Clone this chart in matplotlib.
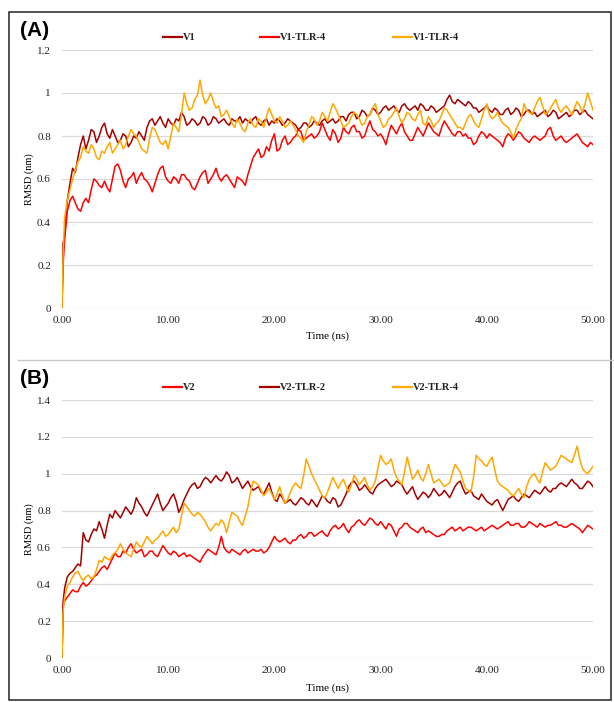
import numpy as np
import matplotlib
matplotlib.use("Agg")
import matplotlib.pyplot as plt
from matplotlib.lines import Line2D
from matplotlib.patches import Rectangle

plt.rcParams['font.family'] = ['Liberation Serif', 'DejaVu Serif']

# simulation time (ns): first frames, then every 0.25 ns
time_ns = np.concatenate([[0.0, 0.1], np.arange(0.25, 50.01, 0.25)])

# --- panel A: V1 systems, RMSD (nm); one row = 5 ns ---
v1 = [0.0, 0.30,
      0.34, 0.50, 0.58, 0.65, 0.63, 0.70, 0.76, 0.80, 0.74, 0.78, 0.83, 0.82, 0.77, 0.80, 0.84, 0.86, 0.81, 0.79, 0.83, 0.80,
      0.77, 0.78, 0.81, 0.80, 0.75, 0.77, 0.80, 0.79, 0.82, 0.80, 0.78, 0.84, 0.87, 0.88, 0.85, 0.87, 0.89, 0.86, 0.84, 0.88,
      0.86, 0.85, 0.88, 0.87, 0.91, 0.89, 0.85, 0.86, 0.88, 0.87, 0.85, 0.86, 0.89, 0.88, 0.85, 0.86, 0.89, 0.88, 0.86, 0.87,
      0.88, 0.86, 0.85, 0.88, 0.87, 0.87, 0.89, 0.86, 0.88, 0.87, 0.86, 0.88, 0.89, 0.86, 0.85, 0.87, 0.88, 0.85, 0.87, 0.86,
      0.88, 0.87, 0.85, 0.86, 0.88, 0.87, 0.86, 0.85, 0.83, 0.84, 0.86, 0.86, 0.84, 0.85, 0.87, 0.86, 0.85, 0.87, 0.88, 0.86,
      0.87, 0.88, 0.86, 0.87, 0.89, 0.89, 0.87, 0.90, 0.91, 0.91, 0.88, 0.89, 0.92, 0.91, 0.89, 0.90, 0.93, 0.92, 0.90, 0.91,
      0.93, 0.94, 0.92, 0.93, 0.94, 0.92, 0.91, 0.94, 0.95, 0.93, 0.92, 0.93, 0.94, 0.92, 0.95, 0.94, 0.92, 0.92, 0.94, 0.93,
      0.91, 0.92, 0.93, 0.94, 0.97, 0.99, 0.96, 0.95, 0.97, 0.96, 0.95, 0.94, 0.96, 0.95, 0.93, 0.93, 0.91, 0.92, 0.93, 0.94,
      0.92, 0.91, 0.93, 0.92, 0.90, 0.90, 0.92, 0.93, 0.90, 0.91, 0.93, 0.92, 0.89, 0.90, 0.92, 0.92, 0.90, 0.91, 0.89, 0.90,
      0.91, 0.92, 0.89, 0.90, 0.92, 0.91, 0.88, 0.89, 0.90, 0.91, 0.89, 0.90, 0.92, 0.92, 0.90, 0.91, 0.92, 0.90, 0.89, 0.88]
v1_tlr4 = [0.0, 0.20,
           0.32, 0.45, 0.50, 0.52, 0.49, 0.46, 0.45, 0.49, 0.51, 0.49, 0.55, 0.60, 0.59, 0.57, 0.56, 0.59, 0.56, 0.54, 0.60, 0.66,
           0.67, 0.64, 0.59, 0.56, 0.60, 0.61, 0.63, 0.58, 0.61, 0.63, 0.60, 0.59, 0.57, 0.54, 0.58, 0.62, 0.65, 0.66, 0.61, 0.59,
           0.58, 0.61, 0.60, 0.58, 0.62, 0.62, 0.60, 0.59, 0.56, 0.55, 0.58, 0.61, 0.63, 0.64, 0.58, 0.60, 0.62, 0.65, 0.61, 0.59,
           0.61, 0.62, 0.60, 0.58, 0.56, 0.61, 0.60, 0.59, 0.57, 0.62, 0.66, 0.70, 0.72, 0.74, 0.70, 0.71, 0.75, 0.73, 0.78, 0.81,
           0.73, 0.74, 0.78, 0.80, 0.76, 0.77, 0.79, 0.80, 0.83, 0.82, 0.78, 0.79, 0.80, 0.81, 0.79, 0.80, 0.82, 0.86, 0.83, 0.80,
           0.78, 0.83, 0.81, 0.77, 0.79, 0.84, 0.82, 0.81, 0.84, 0.85, 0.82, 0.82, 0.79, 0.80, 0.84, 0.87, 0.83, 0.82, 0.80, 0.81,
           0.79, 0.76, 0.81, 0.85, 0.83, 0.81, 0.84, 0.86, 0.82, 0.80, 0.78, 0.78, 0.81, 0.84, 0.82, 0.80, 0.83, 0.86, 0.84, 0.82,
           0.81, 0.80, 0.84, 0.87, 0.85, 0.83, 0.81, 0.80, 0.82, 0.82, 0.80, 0.81, 0.79, 0.79, 0.76, 0.77, 0.80, 0.82, 0.81, 0.79,
           0.81, 0.80, 0.79, 0.78, 0.77, 0.75, 0.79, 0.81, 0.80, 0.78, 0.80, 0.82, 0.81, 0.79, 0.78, 0.77, 0.79, 0.80, 0.79, 0.78,
           0.79, 0.80, 0.83, 0.84, 0.80, 0.78, 0.79, 0.80, 0.78, 0.77, 0.78, 0.79, 0.80, 0.81, 0.79, 0.77, 0.76, 0.75, 0.77, 0.76]
v1_tlr4_b = [0.0, 0.25,
             0.42, 0.50, 0.55, 0.60, 0.64, 0.68, 0.70, 0.75, 0.73, 0.72, 0.76, 0.74, 0.70, 0.69, 0.73, 0.72, 0.75, 0.77, 0.72, 0.74,
             0.76, 0.78, 0.74, 0.76, 0.80, 0.83, 0.81, 0.80, 0.77, 0.74, 0.73, 0.72, 0.79, 0.84, 0.83, 0.80, 0.77, 0.76, 0.78, 0.74,
             0.80, 0.86, 0.84, 0.82, 0.90, 1.00, 0.95, 0.92, 0.93, 0.97, 0.99, 1.06, 0.99, 0.95, 0.97, 1.00, 0.96, 0.93, 0.94, 0.89,
             0.90, 0.92, 0.89, 0.86, 0.84, 0.88, 0.86, 0.83, 0.82, 0.86, 0.88, 0.85, 0.84, 0.88, 0.87, 0.84, 0.89, 0.93, 0.90, 0.87,
             0.86, 0.89, 0.87, 0.84, 0.85, 0.87, 0.85, 0.83, 0.80, 0.79, 0.77, 0.82, 0.85, 0.89, 0.88, 0.85, 0.87, 0.91, 0.89, 0.87,
             0.91, 0.95, 0.93, 0.90, 0.87, 0.84, 0.85, 0.86, 0.89, 0.91, 0.90, 0.88, 0.85, 0.86, 0.89, 0.90, 0.93, 0.95, 0.90, 0.87,
             0.84, 0.85, 0.88, 0.89, 0.91, 0.93, 0.89, 0.86, 0.88, 0.91, 0.90, 0.88, 0.87, 0.90, 0.92, 0.86, 0.85, 0.89, 0.87, 0.84,
             0.86, 0.87, 0.90, 0.93, 0.92, 0.90, 0.88, 0.86, 0.84, 0.84, 0.83, 0.86, 0.89, 0.90, 0.87, 0.85, 0.84, 0.88, 0.92, 0.95,
             0.90, 0.88, 0.89, 0.91, 0.88, 0.86, 0.85, 0.84, 0.82, 0.79, 0.83, 0.86, 0.88, 0.95, 0.92, 0.91, 0.90, 0.93, 0.96, 0.98,
             0.94, 0.90, 0.91, 0.93, 0.95, 0.97, 0.93, 0.91, 0.93, 0.94, 0.92, 0.90, 0.93, 0.96, 0.94, 0.91, 0.95, 1.00, 0.96, 0.92]

# --- panel B: V2 systems, RMSD (nm) ---
v2 = [0.0, 0.28,
      0.31, 0.33, 0.35, 0.37, 0.36, 0.36, 0.39, 0.41, 0.39, 0.40, 0.42, 0.44, 0.45, 0.47, 0.49, 0.50, 0.48, 0.51, 0.54, 0.57,
      0.55, 0.55, 0.58, 0.57, 0.60, 0.62, 0.59, 0.57, 0.58, 0.59, 0.55, 0.56, 0.58, 0.58, 0.56, 0.55, 0.58, 0.61, 0.59, 0.57,
      0.56, 0.58, 0.57, 0.55, 0.56, 0.57, 0.55, 0.56, 0.55, 0.54, 0.53, 0.52, 0.55, 0.57, 0.59, 0.58, 0.57, 0.56, 0.60, 0.66,
      0.60, 0.58, 0.57, 0.59, 0.58, 0.57, 0.56, 0.58, 0.59, 0.57, 0.58, 0.59, 0.58, 0.58, 0.59, 0.57, 0.58, 0.60, 0.63, 0.66,
      0.64, 0.63, 0.64, 0.65, 0.63, 0.62, 0.64, 0.64, 0.66, 0.67, 0.65, 0.66, 0.68, 0.68, 0.66, 0.67, 0.68, 0.69, 0.67, 0.66,
      0.69, 0.71, 0.72, 0.70, 0.71, 0.73, 0.70, 0.68, 0.71, 0.72, 0.74, 0.75, 0.73, 0.72, 0.74, 0.76, 0.75, 0.73, 0.72, 0.74,
      0.72, 0.70, 0.73, 0.72, 0.69, 0.66, 0.70, 0.71, 0.73, 0.73, 0.71, 0.70, 0.69, 0.68, 0.70, 0.71, 0.68, 0.69, 0.68, 0.67,
      0.66, 0.66, 0.67, 0.67, 0.69, 0.70, 0.71, 0.69, 0.70, 0.71, 0.69, 0.70, 0.71, 0.71, 0.70, 0.69, 0.70, 0.71, 0.69, 0.70,
      0.71, 0.72, 0.71, 0.70, 0.71, 0.72, 0.73, 0.74, 0.72, 0.72, 0.73, 0.73, 0.71, 0.71, 0.72, 0.74, 0.73, 0.72, 0.71, 0.73,
      0.72, 0.71, 0.72, 0.72, 0.73, 0.74, 0.72, 0.72, 0.71, 0.71, 0.72, 0.73, 0.72, 0.71, 0.70, 0.68, 0.70, 0.72, 0.71, 0.70]
v2_tlr2 = [0.0, 0.30,
           0.38, 0.44, 0.46, 0.47, 0.49, 0.51, 0.50, 0.68, 0.64, 0.63, 0.67, 0.70, 0.69, 0.74, 0.70, 0.65, 0.72, 0.78, 0.76, 0.80,
           0.78, 0.76, 0.79, 0.82, 0.80, 0.78, 0.81, 0.87, 0.84, 0.82, 0.79, 0.77, 0.80, 0.83, 0.86, 0.89, 0.84, 0.80, 0.82, 0.84,
           0.87, 0.89, 0.85, 0.79, 0.82, 0.86, 0.89, 0.92, 0.94, 0.95, 0.92, 0.93, 0.96, 0.98, 0.97, 0.95, 0.97, 0.99, 0.97, 0.96,
           0.98, 1.01, 0.99, 0.95, 0.96, 0.98, 0.95, 0.92, 0.94, 0.96, 0.93, 0.91, 0.92, 0.93, 0.90, 0.89, 0.92, 0.95, 0.90, 0.86,
           0.85, 0.89, 0.87, 0.84, 0.85, 0.86, 0.84, 0.83, 0.85, 0.87, 0.86, 0.84, 0.83, 0.86, 0.84, 0.82, 0.85, 0.88, 0.87, 0.85,
           0.84, 0.87, 0.86, 0.82, 0.83, 0.86, 0.89, 0.93, 0.95, 0.96, 0.94, 0.91, 0.92, 0.94, 0.92, 0.90, 0.89, 0.92, 0.94, 0.95,
           0.96, 0.97, 0.95, 0.93, 0.94, 0.96, 0.95, 0.94, 0.91, 0.89, 0.91, 0.93, 0.89, 0.86, 0.88, 0.90, 0.89, 0.87, 0.89, 0.92,
           0.90, 0.88, 0.89, 0.91, 0.89, 0.87, 0.90, 0.93, 0.95, 0.96, 0.92, 0.89, 0.90, 0.91, 0.88, 0.87, 0.86, 0.89, 0.87, 0.85,
           0.84, 0.83, 0.85, 0.86, 0.83, 0.80, 0.83, 0.86, 0.87, 0.88, 0.86, 0.85, 0.87, 0.89, 0.88, 0.87, 0.89, 0.91, 0.90, 0.89,
           0.91, 0.93, 0.91, 0.90, 0.92, 0.92, 0.94, 0.95, 0.94, 0.93, 0.95, 0.97, 0.95, 0.94, 0.92, 0.92, 0.94, 0.96, 0.95, 0.93]
v2_tlr4 = [0.0, 0.25,
           0.33, 0.39, 0.41, 0.44, 0.46, 0.47, 0.44, 0.42, 0.44, 0.45, 0.43, 0.44, 0.48, 0.53, 0.52, 0.55, 0.54, 0.53, 0.56, 0.57,
           0.59, 0.62, 0.59, 0.57, 0.56, 0.55, 0.59, 0.63, 0.61, 0.60, 0.63, 0.66, 0.64, 0.62, 0.64, 0.65, 0.67, 0.69, 0.66, 0.67,
           0.69, 0.71, 0.68, 0.70, 0.77, 0.84, 0.82, 0.80, 0.78, 0.77, 0.79, 0.78, 0.76, 0.74, 0.71, 0.69, 0.71, 0.73, 0.72, 0.75,
           0.73, 0.68, 0.74, 0.79, 0.78, 0.77, 0.74, 0.72, 0.77, 0.82, 0.90, 0.96, 0.95, 0.94, 0.91, 0.88, 0.90, 0.92, 0.89, 0.86,
           0.89, 0.93, 0.88, 0.84, 0.86, 0.90, 0.93, 0.95, 0.93, 0.92, 0.99, 1.08, 1.04, 1.00, 0.97, 0.94, 0.91, 0.88, 0.87, 0.90,
           0.94, 0.98, 0.95, 0.92, 0.95, 0.97, 0.93, 0.90, 0.94, 0.99, 0.97, 0.94, 0.96, 0.98, 0.94, 0.91, 0.93, 0.96, 1.03, 1.10,
           1.07, 1.05, 1.06, 1.08, 1.02, 0.98, 0.96, 0.94, 1.01, 1.09, 1.03, 0.97, 0.99, 1.02, 0.98, 0.96, 1.00, 1.05, 1.00, 0.95,
           0.96, 0.97, 0.95, 0.93, 0.94, 0.95, 1.00, 1.05, 1.03, 1.01, 0.96, 0.92, 0.91, 0.90, 0.98, 1.10, 1.08, 1.07, 1.05, 1.04,
           1.07, 1.09, 1.02, 0.96, 0.94, 0.93, 0.92, 0.91, 0.89, 0.88, 0.90, 0.92, 0.89, 0.87, 0.93, 0.97, 0.99, 1.00, 0.97, 0.95,
           1.01, 1.06, 1.04, 1.02, 1.03, 1.04, 1.07, 1.10, 1.09, 1.08, 1.07, 1.06, 1.10, 1.15, 1.08, 1.03, 1.01, 1.00, 1.02, 1.04]

DARK_RED = '#a30000'
RED = '#ff0000'
ORANGE = '#ffa800'

panels = [
    dict(tag='(A)', ymax=1.2,
         series=[('V1', v1, DARK_RED), ('V1-TLR-4', v1_tlr4, RED),
                 ('V1-TLR-4', v1_tlr4_b, ORANGE)]),
    dict(tag='(B)', ymax=1.4,
         series=[('V2', v2, RED), ('V2-TLR-2', v2_tlr2, DARK_RED),
                 ('V2-TLR-4', v2_tlr4, ORANGE)]),
]

W, H = 614, 702
fig = plt.figure(figsize=(W / 100, H / 100), dpi=100)


def fx(px):
    return px / W


def fy(py):
    return 1 - py / H


# axes boxes in pixels: left, top, right, bottom
boxes = [(62, 50, 593, 308), (62, 400, 593, 658)]
legend_x = [163, 260, 393]  # left end of each legend line
tag_y = [30, 378]
legend_y = [37, 387]
xlabel_y = [336, 688]

for i, p in enumerate(panels):
    l, t, r, b = boxes[i]
    ax = fig.add_axes([fx(l), fy(b), fx(r) - fx(l), fy(t) - fy(b)])
    for name, vals, col in p['series']:
        ax.plot(time_ns, vals, color=col, lw=1.1)
    ax.set_xlim(0, 50)
    ax.set_ylim(0, p['ymax'])
    yt = np.arange(0, p['ymax'] + 0.01, 0.2)
    ax.set_yticks(yt)
    ax.set_yticklabels([f'{v:g}' for v in yt])
    xt = np.arange(0, 51, 10)
    ax.set_xticks(xt)
    ax.set_xticklabels([f'{v:.2f}' for v in xt])
    ax.tick_params(length=0, labelsize=8, colors='#222222')
    ax.tick_params(axis='x', pad=6)
    ax.tick_params(axis='y', pad=8)
    ax.grid(axis='y', color='#d9d9d9', lw=0.9)
    ax.set_axisbelow(True)
    for s in ax.spines.values():
        s.set_visible(False)
    ax.set_ylabel('RMSD (nm)', fontsize=7.5, labelpad=2)
    fig.text(fx((l + r) / 2), fy(xlabel_y[i]), 'Time (ns)', fontsize=8,
             ha='center', va='center')

    fig.text(fx(20), fy(tag_y[i]), p['tag'], fontsize=15, fontweight='bold',
             family='Liberation Sans', ha='left', va='center')
    for (name, vals, col), x0 in zip(p['series'], legend_x):
        fig.add_artist(Line2D([fx(x0), fx(x0 + 19)], [fy(legend_y[i])] * 2,
                              color=col, lw=1.6, transform=fig.transFigure))
        fig.text(fx(x0 + 20), fy(legend_y[i]), name, fontsize=7.5,
                 fontweight='bold', ha='left', va='center', color='#222222')

# outer frame and divider between the panels
fig.add_artist(Rectangle((fx(9), fy(700)), fx(611) - fx(9), fy(12) - fy(700),
                         fill=False, edgecolor='#333333', lw=1.2,
                         transform=fig.transFigure))
fig.add_artist(Line2D([fx(18), fx(614)], [fy(360)] * 2, color='#c8c8c8',
                      lw=1.0, transform=fig.transFigure))

fig.savefig('out.png', dpi=100, facecolor='white')
